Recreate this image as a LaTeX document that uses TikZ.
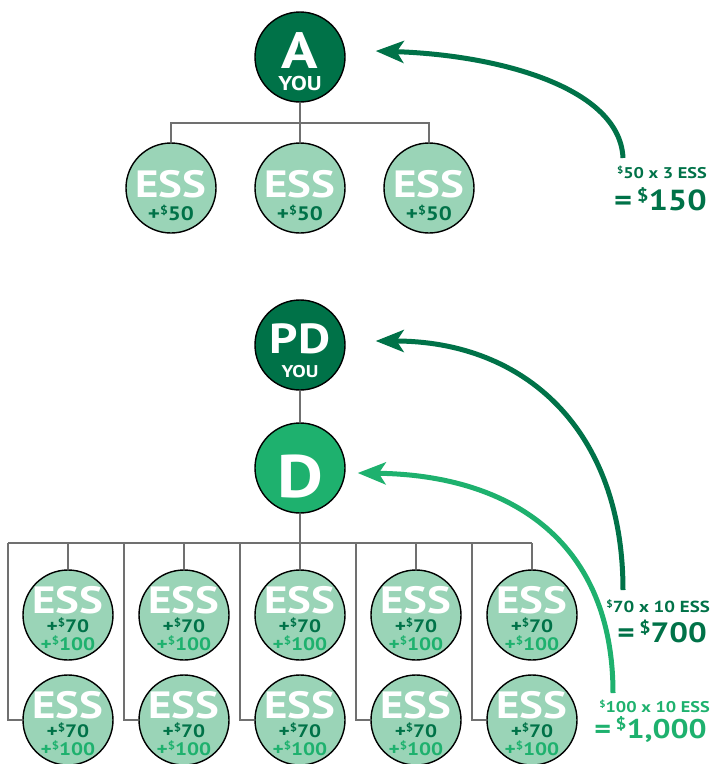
\documentclass[tikz,border=0pt]{standalone}
\usepackage{fontspec}
\usepackage{graphicx}
\setmainfont{PT Sans}[FakeStretch=1.18]
\usetikzlibrary{arrows.meta}

\definecolor{dunkel}{RGB}{0,114,72}
\definecolor{mittel}{RGB}{30,177,110}
\definecolor{hell}{RGB}{154,212,183}
\definecolor{linie}{RGB}{112,112,112}
\newcommand{\gr}[1]{\fontsize{#1}{#1}\selectfont\bfseries}
\newcommand{\dol}{\raisebox{.3em}{\scalebox{.6}{\$}}}

\begin{document}
\begin{tikzpicture}[x=1pt, y=-1pt]
	\tikzset{Kreis/.style={circle, draw=black, line width=1.4pt, minimum size=90pt, inner sep=0pt}}
	\tikzset{Chef/.style={Kreis, fill=dunkel}, Mitte/.style={Kreis, fill=mittel}, ESS/.style={Kreis, fill=hell}}
	\tikzset{Kante/.style={draw=linie, line width=1.8pt}}
	\tikzset{Pfeil/.style={line width=5pt, -{Stealth[length=28pt, width=22pt, inset=7pt]}}}
	\tikzset{Text/.style={anchor=base, inner sep=0pt}, Summe/.style={anchor=base east, inner sep=0pt}}
	\useasboundingbox (0,0) rectangle (712,764);
	
	% Knoten
	\node[Chef] (A) at (300,57) {};
	\node[Text, white] (A-t) at (300,68) {\gr{51}A};
	\node[Text, white] (A-y) at (300,90) {\gr{20}YOU};
	\foreach \x [count=\i] in {171,300,429} {
		\node[ESS] (O\i) at (\x,188) {};
		\node[Text, white] (O\i-t) at (\x,197) {\gr{38}ESS};
		\node[Text, dunkel] (O\i-b) at (\x,220) {\gr{19.5}+\dol50};
	}
	\node[Chef] (PD) at (300,345) {};
	\node[Text, white] (PD-t) at (300,353) {\gr{42}PD};
	\node[Text, white] (PD-y) at (300,377) {\gr{17}YOU};
	\node[Mitte] (D) at (300,468) {};
	\node[Text, white] (D-t) at (300,497) {\gr{60}D};
	\foreach \x [count=\i] in {68,184,300,416,532} {
		\foreach \y [count=\j] in {615,720} {
			\node[ESS] (E\i-\j) at (\x,\y) {};
			\node[Text, white] (E\i-\j-t) at (\x,\y-2) {\gr{38}ESS};
			\node[Text, dunkel] (E\i-\j-a) at (\x,\y+17) {\gr{18}+\dol70};
			\node[Text, mittel] (E\i-\j-b) at (\x,\y+35) {\gr{18}+\dol100};
		}
	}
	
	% Kanten
	\coordinate (T) at (300,123);
	\coordinate (B) at (300,543);
	\draw[Kante] (A.south) -- (O2.north);
	\draw[Kante] (O1.north) |- (O3.north |- T) -- (O3.north);
	\draw[Kante] (PD.south) -- (D.north);
	\draw[Kante] (D.south) -- (B);
	\draw[Kante] ([xshift=-14pt]E1-2.west |- B) -- (E5-1.north |- B);
	\foreach \i in {1,...,5} {
		\draw[Kante] (E\i-1.north |- B) -- (E\i-1.north);
		\draw[Kante] ([xshift=-14pt]E\i-2.west |- B) |- (E\i-2.west);
	}
	
	% Pfeile
	\coordinate (s1) at (623,158);
	\coordinate (s2) at (623,590);
	\coordinate (s3) at (613,693);
	\draw[Pfeil, dunkel] (s1) .. controls (620,88) and (500,55) .. ([xshift=30pt, yshift=6pt]A.east);
	\draw[Pfeil, dunkel] (s2) .. controls (623,430) and (525,341) .. ([xshift=30pt, yshift=4pt]PD.east);
	\draw[Pfeil, mittel] (s3) .. controls (613,545) and (515,475) .. ([xshift=12pt, yshift=-5pt]D.east);
	
	% Summen
	\node[Summe, dunkel] (S1-a) at (707,178) {\gr{15.5}\dol50 x 3 ESS};
	\node[Summe, dunkel] (S1-b) at (707,210) {\gr{29}=\,\dol150};
	\node[Summe, dunkel] (S2-a) at (710,612) {\gr{16}\dol70 x 10 ESS};
	\node[Summe, dunkel] (S2-b) at (707,642) {\gr{28}=\,\dol700};
	\node[Summe, mittel] (S3-a) at (710,712) {\gr{15.5}\dol100 x 10 ESS};
	\node[Summe, mittel] (S3-b) at (707,738) {\gr{27}=\,\dol1,000};
\end{tikzpicture}
\end{document}
